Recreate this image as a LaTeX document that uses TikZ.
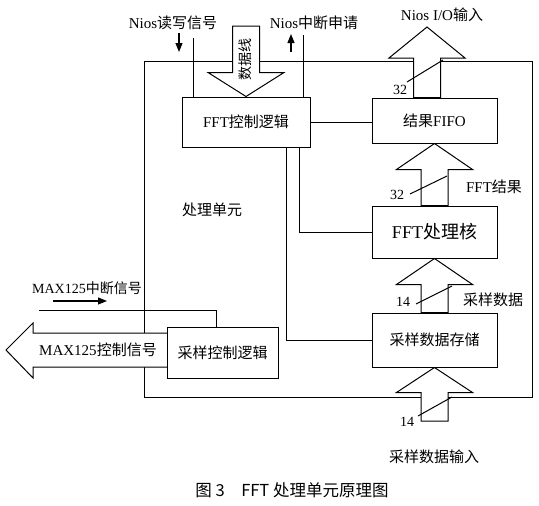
\documentclass[tikz,border=0pt]{standalone}
\usepackage{fontspec}
\setmainfont{Liberation Serif}
\newfontfamily\cjk{Noto Sans CJK SC}
\usetikzlibrary{calc,arrows.meta}
\def\fatarrow#1#2#3{\draw[fill=white, line width=1pt] ($(#1|-#2)+(-13.5,0)$) -- ($(#1)+(-13.5,#3)$) -- ($(#1)+(-38,#3)$) -- (#1) -- ($(#1)+(38,#3)$) -- ($(#1)+(13.5,#3)$) -- ($(#1|-#2)+(13.5,0)$) -- cycle;}
\tikzset{
	blockbox/.style={draw, line width=1pt, inner sep=0pt, font=\fontsize{15}{18}\selectfont},
	lbl/.style={inner sep=0pt, font=\fontsize{15}{18}\selectfont},
	wnum/.style={inner sep=0pt, font=\fontsize{14}{16}\selectfont},
	sig/.style={line width=1.1pt, -{Triangle[length=9pt, width=7pt]}}
}
\begin{document}
\begin{tikzpicture}[x=1pt, y=-1pt, line width=1pt]
			%%%%% START %%%%%
			\useasboundingbox (0, 0) rectangle (539, 506);
			
			\draw (144, 61) rectangle (532, 397);
			
			\node[blockbox, minimum width=128pt, minimum height=50pt] (ctrl) at (246, 122) {FFT{\cjk 控制逻辑}};
			\node[blockbox, minimum width=125pt, minimum height=45pt] (fifo) at (434.5, 120.5) {{\cjk 结果}FIFO};
			\node[blockbox, minimum width=125pt, minimum height=52pt, font=\fontsize{18}{21}\selectfont] (core) at (434.5, 232) {FFT{\cjk 处理核}};
			\node[blockbox, minimum width=125pt, minimum height=54pt] (store) at (434.5, 340) {\cjk 采样数据存储};
			
			\coordinate (bus) at (245, 26);
			\coordinate (io) at (427, 27);
			\coordinate (in) at (436, 421);
			\coordinate (rw) at (193, 38);
			\coordinate (irq) at (303, 35);
			\coordinate (maxi) at (39, 310);
			
			\fatarrow{ctrl.north}{bus}{-24}
			\node[lbl, rotate=90, font=\fontsize{14}{16}\selectfont] (busname) at (245, 59) {\cjk 数据线};
			\fatarrow{io}{fifo.north}{31}
			\fatarrow{fifo.south}{core.north}{26}
			\fatarrow{core.south}{store.north}{26}
			\fatarrow{store.south}{in}{25}
			
			\draw[fill=white] (167, 333) -- (33, 333) -- (33, 323) -- (6, 350) -- (33, 378) -- (33, 367) -- (167, 367);
			\node[blockbox, minimum width=111pt, minimum height=51pt, fill=white] (samp) at (222.5, 352.5) {\cjk 采样控制逻辑};
			\node[lbl] (maxo) at (98, 350) {MAX125{\cjk 控制信号}};
			
			\draw (rw) -- (rw|-ctrl.north);
			\draw (irq) -- (irq|-ctrl.north);
			\draw[sig] (179, 33) -- (179, 52);
			\draw[sig] (291, 52) -- (291, 34);
			\node[lbl] (rwname) at (173, 23) {Nios{\cjk 读写信号}};
			\node[lbl] (irqname) at (314, 23) {Nios{\cjk 中断申请}};
			\node[lbl] (ioname) at (442, 15) {Nios I/O{\cjk 输入}};
			
			\draw (ctrl.east) -- (ctrl.east-|fifo.west);
			\draw ($(ctrl.south west)+(105, 0)$) |- (store.west);
			\draw ($(ctrl.south west)+(118, 0)$) |- (core.west);
			
			\draw (maxi) -| ($(samp.north west)+(50, 0)$);
			\draw[sig] (53, 301) -- (107, 301);
			\node[lbl, font=\fontsize{14}{16}\selectfont] (maxiname) at (87, 288) {MAX125{\cjk 中断信号}};
			
			\draw (407, 82) -- (443, 60);
			\node[wnum] (w1) at (400, 90) {32};
			\draw (410, 194) -- (447, 176);
			\node[wnum] (w2) at (397, 195) {32};
			\node[lbl] (resname) at (494, 187) {FFT{\cjk 结果}};
			\draw (416, 304) -- (452, 286);
			\node[wnum] (w3) at (403, 302) {14};
			\node[lbl] (datname) at (493, 300) {\cjk 采样数据};
			\draw (418, 416) -- (452, 397);
			\node[wnum] (w4) at (407, 422) {14};
			\node[lbl] (inname) at (434, 457) {\cjk 采样数据输入};
			
			\node[lbl] (unitname) at (212, 210) {\cjk 处理单元};
			\node[lbl, font=\fontsize{16.5}{19}\selectfont] (caption) at (292, 490) {\cjk 图 3\quad FFT 处理单元原理图};
			%%%%% END %%%%%
\end{tikzpicture}
\end{document}
